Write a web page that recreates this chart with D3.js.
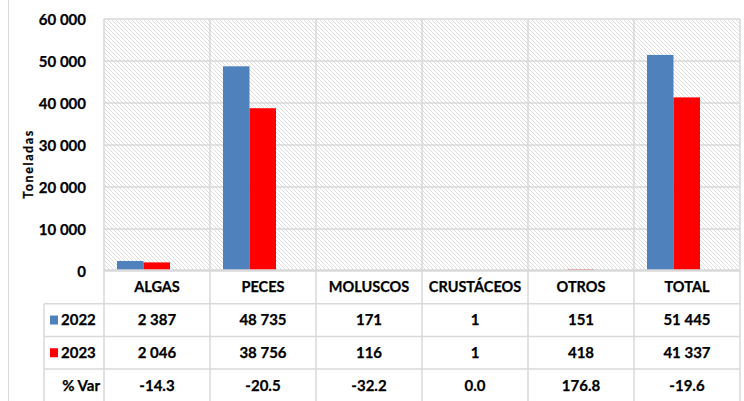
<!DOCTYPE html>
<html>
<head>
<meta charset="utf-8">
<script src="https://cdn.jsdelivr.net/npm/d3@7/dist/d3.min.js"></script>
<style>
  body { margin: 0; background: #fff; }
  svg text { font-family: Lato, "Liberation Sans", sans-serif; font-weight: bold; fill: #000; stroke: #000; stroke-width: 0.25px; }
</style>
</head>
<body>
<svg id="chart" width="744" height="401"></svg>
<script>
// data
const categories = ['ALGAS', 'PECES', 'MOLUSCOS', 'CRUSTÁCEOS', 'OTROS', 'TOTAL'];
const years = ['2022', '2023'];
const values2022 = [2387, 48735, 171, 1, 151, 51445];
const values2023 = [2046, 38756, 116, 1, 418, 41337];
const pctVar = [-14.3, -20.5, -32.2, 0.0, 176.8, -19.6];
const yTicks = [0, 10000, 20000, 30000, 40000, 50000, 60000];

const colors = { '2022': '#4F81BD', '2023': '#FF0000' };
const gridColor = '#d9d9d9';

const svg = d3.select('#chart');
const plot = { left: 104, right: 740, top: 19, bottom: 271 };
const rowH = 32.7;

const locale = d3.formatLocale({ decimal: '.', thousands: ' ', grouping: [3], currency: ['', ''], minus: '-' });
const fmtInt = locale.format(',d');
const fmtPct = locale.format('.1f');

// hatched plot background
const defs = svg.append('defs');
const pat = defs.append('pattern')
    .attr('id', 'hatch')
    .attr('patternUnits', 'userSpaceOnUse')
    .attr('width', 4).attr('height', 4);
pat.append('path')
    .attr('d', 'M-1,-1 L5,5 M-1,3 L1,5 M3,-1 L5,1')
    .attr('stroke', '#d4d4d4')
    .attr('stroke-width', 0.8);

const x0 = d3.scaleBand().domain(categories).range([plot.left, plot.right]);
const x1 = d3.scaleBand().domain(years).range([13, 66]);
const y = d3.scaleLinear().domain([0, 60000]).range([plot.bottom, plot.top]);

svg.append('rect')
    .attr('x', plot.left).attr('y', plot.top)
    .attr('width', plot.right - plot.left).attr('height', plot.bottom - plot.top)
    .attr('fill', 'url(#hatch)');

// outer chart border on the left
svg.append('line')
    .attr('x1', 8.5).attr('x2', 8.5).attr('y1', 0).attr('y2', 401)
    .attr('stroke', gridColor).attr('stroke-width', 1);

// horizontal gridlines (zero line drawn later, over the bars)
svg.append('g').selectAll('line')
    .data(yTicks.filter(d => d > 0))
    .join('line')
    .attr('x1', plot.left).attr('x2', plot.right)
    .attr('y1', d => y(d)).attr('y2', d => y(d))
    .attr('stroke', gridColor).attr('stroke-width', 1.5);

// vertical category lines (through plot and table)
const vlines = categories.map(c => x0(c)).concat([plot.right]);
svg.append('g').selectAll('line')
    .data(vlines)
    .join('line')
    .attr('x1', d => d).attr('x2', d => d)
    .attr('y1', plot.top).attr('y2', 401)
    .attr('stroke', gridColor).attr('stroke-width', 1.5);

// bars
const series = [
    { year: '2022', values: values2022 },
    { year: '2023', values: values2023 }
];
svg.append('g').selectAll('g')
    .data(series)
    .join('g')
    .attr('fill', d => colors[d.year])
    .selectAll('rect')
    .data(d => d.values.map((v, i) => ({ cat: categories[i], v, year: d.year })))
    .join('rect')
    .attr('x', d => x0(d.cat) + x1(d.year))
    .attr('width', x1.bandwidth())
    .attr('y', d => y(d.v))
    .attr('height', d => y(0) - y(d.v));

svg.append('line')
    .attr('x1', plot.left).attr('x2', plot.right)
    .attr('y1', y(0) - 0.5).attr('y2', y(0) - 0.5)
    .attr('stroke', gridColor).attr('stroke-width', 2.5);

// y axis labels
const yAxis = d3.axisLeft(y)
    .tickValues(yTicks)
    .tickFormat(d => fmtInt(d))
    .tickSize(0)
    .tickPadding(0);
const yg = svg.append('g')
    .attr('transform', `translate(86,0)`)
    .call(yAxis);
yg.select('.domain').remove();
yg.selectAll('text')
    .style('font-size', '15px')
    .style('font-family', 'Lato, sans-serif')
    .attr('dy', '0.35em');

// y axis title
svg.append('text')
    .attr('transform', 'translate(29,164) rotate(-90)')
    .attr('text-anchor', 'middle')
    .attr('dy', '0.35em')
    .style('font-size', '12.5px')
    .style('font-family', 'Lato, sans-serif')
    .style('letter-spacing', '1.6px')
    .text('Toneladas');

// data table
const rows = [
    { label: '2022', key: '2022', cells: values2022.map(fmtInt) },
    { label: '2023', key: '2023', cells: values2023.map(fmtInt) },
    { label: '% Var', key: null, cells: pctVar.map(fmtPct) }
];
const tableTop = plot.bottom;

// horizontal table lines
svg.append('g').selectAll('line')
    .data(rows.map((r, i) => tableTop + rowH * (i + 1)))
    .join('line')
    .attr('x1', 44).attr('x2', plot.right)
    .attr('y1', d => d).attr('y2', d => d)
    .attr('stroke', gridColor).attr('stroke-width', 1.5);
svg.append('line')
    .attr('x1', 44).attr('x2', 44)
    .attr('y1', tableTop + rowH).attr('y2', 401)
    .attr('stroke', gridColor).attr('stroke-width', 1.5);

// header
svg.append('g').selectAll('text')
    .data(categories)
    .join('text')
    .attr('x', d => x0(d) + x0.bandwidth() / 2)
    .attr('y', tableTop + rowH / 2)
    .attr('dy', '0.35em')
    .attr('text-anchor', 'middle')
    .style('font-size', '14.5px')
    .text(d => d);

const rowG = svg.append('g').selectAll('g')
    .data(rows)
    .join('g')
    .attr('transform', (d, i) => `translate(0,${tableTop + rowH * (i + 1) + rowH / 2})`);

rowG.selectAll('text.cell')
    .data(d => d.cells)
    .join('text')
    .attr('class', 'cell')
    .attr('x', (d, i) => x0(categories[i]) + x0.bandwidth() / 2)
    .attr('dy', '0.35em')
    .attr('text-anchor', 'middle')
    .style('font-size', '15px')
    .text(d => d);

rowG.filter(d => d.key)
    .append('rect')
    .attr('x', 50).attr('y', -4.5)
    .attr('width', 8).attr('height', 9)
    .attr('fill', d => colors[d.key]);

rowG.append('text')
    .attr('x', d => d.key ? 61 : 100)
    .attr('dy', '0.35em')
    .attr('text-anchor', d => d.key ? 'start' : 'end')
    .style('font-size', '15px')
    .text(d => d.label);
</script>
</body>
</html>
